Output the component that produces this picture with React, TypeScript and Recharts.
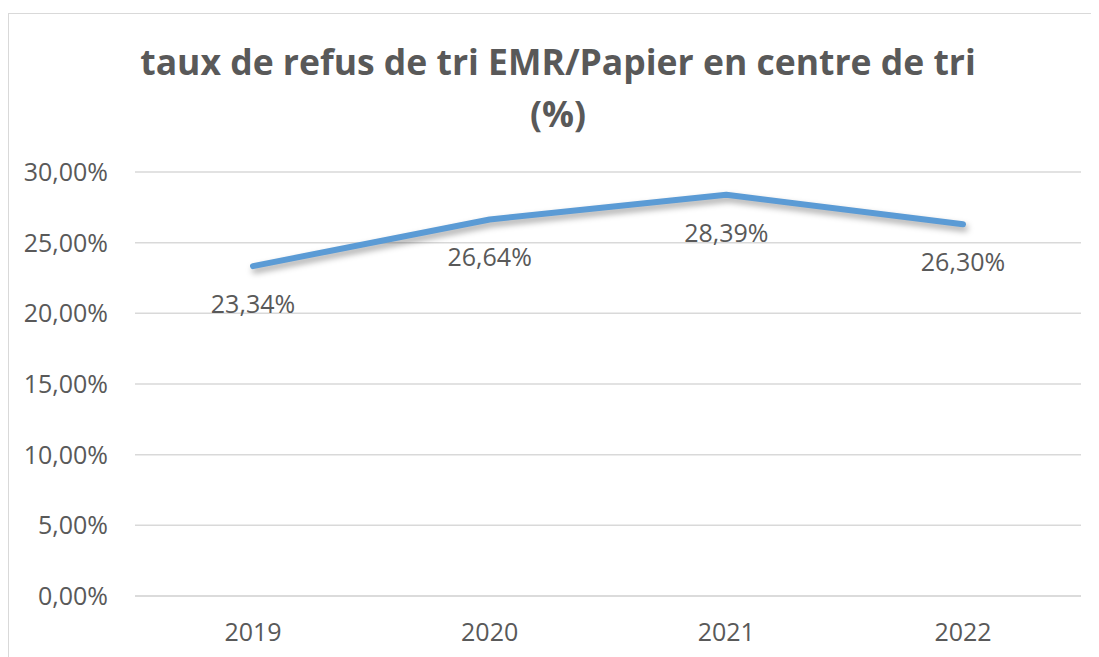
import React from "react";
import { LineChart, Line, XAxis, YAxis, CartesianGrid, LabelList } from "recharts";

const years = ["2019", "2020", "2021", "2022"];
const refusRates = [0.2334, 0.2664, 0.2839, 0.263];
const yTicks = [0, 0.05, 0.1, 0.15, 0.2, 0.25, 0.3];
const titleLine1 = "taux de refus de tri EMR/Papier en centre de tri";
const titleLine2 = "(%)";

const data = years.map((y, i) => ({ year: y, value: refusRates[i] }));

const fmt = (v: number) => (v * 100).toFixed(2).replace(".", ",") + "%";

const FONT = "'Open Sans', sans-serif";
const TEXT = "#595959";

export default function App() {
  return (
    <div style={{ position: "relative", marginTop: 5, width: 1091, height: 660, border: "1px solid #d9d9d9", boxSizing: "border-box", background: "#fff" }}>
      <style>{`body{overflow:hidden;} .recharts-line-curve{filter: drop-shadow(2px 4px 3px rgba(0,0,0,0.35));}`}</style>
      <div
        style={{
          position: "absolute",
          left: 0,
          top: 21,
          width: 1098,
          textAlign: "center",
          fontFamily: FONT,
          fontWeight: 700,
          fontSize: 35.5,
          lineHeight: "52px",
          color: TEXT,
        }}
      >
        <div>{titleLine1}</div>
        <div>{titleLine2}</div>
      </div>
      <LineChart
        width={1089}
        height={650}
        data={data}
        margin={{ top: 158, right: 17, bottom: 18, left: 10 }}
      >
        <CartesianGrid vertical={false} stroke="#d9d9d9" strokeWidth={1.5} />
        <XAxis
          dataKey="year"
          padding={{ left: 118, right: 118 }}
          axisLine={{ stroke: "#d9d9d9", strokeWidth: 1.5 }}
          tickLine={false}
          tickSize={0}
          tickMargin={27}
          height={50}
          tick={{ fill: TEXT, fontSize: 25, fontFamily: FONT }}
        />
        <YAxis
          domain={[0, 0.3]}
          ticks={yTicks}
          tickFormatter={fmt}
          axisLine={false}
          tickLine={false}
          tickSize={0}
          tickMargin={27}
          width={116}
          tick={{ fill: TEXT, fontSize: 25, fontFamily: FONT }}
        />
        <Line
          dataKey="value"
          stroke="#5B9BD5"
          strokeWidth={6}
          strokeLinecap="round"
          strokeLinejoin="round"
          dot={false}
          activeDot={false}
          isAnimationActive={false}
        >
          <LabelList
            dataKey="value"
            position="bottom"
            offset={29}
            formatter={(v: any) => fmt(Number(v))}
            style={{ fill: TEXT, fontSize: 25, fontFamily: FONT }}
          />
        </Line>
      </LineChart>
    </div>
  );
}
